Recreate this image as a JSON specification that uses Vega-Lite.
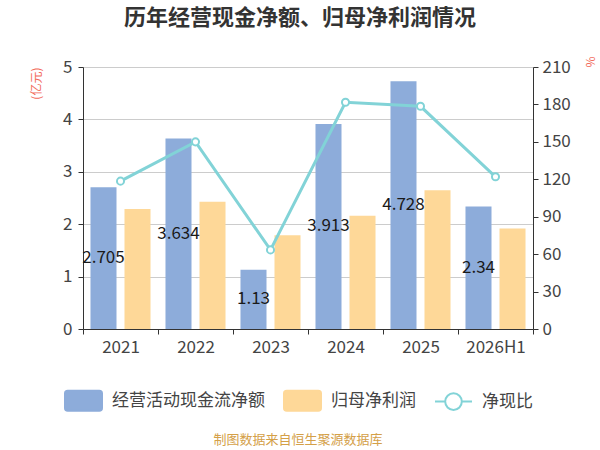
{
  "$schema": "https://vega.github.io/schema/vega-lite/v6.json",
  "width": 450,
  "height": 262,
  "autosize": {"type": "pad"},
  "padding": {"left": 30, "top": 6, "right": 5, "bottom": 0},
  "background": "white",
  "title": {
    "text": "历年经营现金净额、归母净利润情况",
    "fontSize": 22,
    "fontWeight": "bold",
    "color": "#333333",
    "anchor": "middle",
    "frame": "group",
    "dx": -8,
    "offset": 26
  },
  "config": {
    "font": "Noto Sans CJK SC",
    "view": {"stroke": null},
    "axis": {
      "labelFontSize": 17,
      "labelColor": "#444444",
      "domainColor": "#333333",
      "tickColor": "#333333",
      "tickSize": 5,
      "titleFontWeight": "normal",
      "titleFontSize": 12,
      "titleColor": "#f26b5b",
      "gridColor": "#cccccc"
    }
  },
  "datasets": {
    "bars": [
      {"year": "2021", "series": "经营活动现金流净额", "v": 2.705, "mid": 1.3525},
      {"year": "2022", "series": "经营活动现金流净额", "v": 3.634, "mid": 1.817},
      {"year": "2023", "series": "经营活动现金流净额", "v": 1.13, "mid": 0.565},
      {"year": "2024", "series": "经营活动现金流净额", "v": 3.913, "mid": 1.9565},
      {"year": "2025", "series": "经营活动现金流净额", "v": 4.728, "mid": 2.364},
      {"year": "2026H1", "series": "经营活动现金流净额", "v": 2.34, "mid": 1.17},
      {"year": "2021", "series": "归母净利润", "v": 2.29},
      {"year": "2022", "series": "归母净利润", "v": 2.43},
      {"year": "2023", "series": "归母净利润", "v": 1.79},
      {"year": "2024", "series": "归母净利润", "v": 2.16},
      {"year": "2025", "series": "归母净利润", "v": 2.65},
      {"year": "2026H1", "series": "归母净利润", "v": 1.92}
    ],
    "ratio": [
      {"year": "2021", "ratio": 118.5},
      {"year": "2022", "ratio": 150.0},
      {"year": "2023", "ratio": 63.4},
      {"year": "2024", "ratio": 181.7},
      {"year": "2025", "ratio": 178.5},
      {"year": "2026H1", "ratio": 122.0}
    ]
  },
  "encoding": {
    "x": {
      "field": "year",
      "type": "nominal",
      "sort": null,
      "scale": {"paddingInner": 0, "paddingOuter": 0},
      "axis": {"title": null, "labelAngle": 0, "tickBand": "extent", "labelPadding": 5, "grid": false}
    }
  },
  "layer": [
    {
      "data": {"name": "bars"},
      "layer": [
        {
          "mark": {"type": "bar"},
          "encoding": {
            "y": {
              "field": "v",
              "type": "quantitative",
              "scale": {"domain": [0, 5]},
              "axis": {
                "values": [0, 1, 2, 3, 4, 5],
                "title": "(亿元)",
                "titleAnchor": "end",
                "titlePadding": 19,
                "labelPadding": 6,
                "grid": true
              }
            },
            "xOffset": {
              "field": "series",
              "type": "nominal",
              "sort": ["经营活动现金流净额", "归母净利润"],
              "scale": {"paddingInner": 0.235, "paddingOuter": 0.22}
            },
            "color": {
              "field": "series",
              "type": "nominal",
              "scale": {
                "domain": ["经营活动现金流净额", "归母净利润", "净现比"],
                "range": ["#8dacda", "#fed898", "#82d3d7"]
              },
              "legend": {
                "orient": "none",
                "legendX": -19,
                "legendY": 314,
                "direction": "horizontal",
                "title": "制图数据来自恒生聚源数据库",
                "titleOrient": "bottom",
                "titleAnchor": "middle",
                "titleColor": "#d4a048",
                "titleFontSize": 13,
                "titleFontWeight": "normal",
                "titlePadding": 19,
                "labelFontSize": 17,
                "labelColor": "#444444",
                "labelOffset": 9,
                "columnPadding": 15,
                "symbolSize": 1369,
                "symbolStrokeWidth": 2,
                "encode": {
                  "symbols": {
                    "update": {
                      "shape": {"signal": "datum.value === '净现比' ? 'M-1,0H-0.45M0.45,0H1M0.45,0A0.45,0.45 0 1 1 -0.45,0A0.45,0.45 0 1 1 0.45,0ZM0.45,0A0.45,0.45 0 1 0 -0.45,0A0.45,0.45 0 1 0 0.45,0Z' : 'M-0.85,-0.54H0.85Q1,-0.54 1,-0.39V0.39Q1,0.54 0.85,0.54H-0.85Q-1,0.54 -1,0.39V-0.39Q-1,-0.54 -0.85,-0.54Z'"},
                      "fill": {"signal": "datum.value === '净现比' ? '#ffffff' : (datum.value === '归母净利润' ? '#fed898' : '#8dacda')"},
                      "stroke": {"signal": "datum.value === '净现比' ? '#82d3d7' : 'transparent'"},
                      "strokeWidth": {"value": 2},
                      "opacity": {"value": 1}
                    }
                  }
                }
              }
            }
          }
        },
        {
          "transform": [{"filter": "datum.series === '经营活动现金流净额'"}],
          "mark": {"type": "text", "fontSize": 17, "color": "#1a1a1a", "baseline": "middle", "align": "center"},
          "encoding": {
            "y": {"field": "mid", "type": "quantitative"},
            "xOffset": {
              "field": "series",
              "type": "nominal",
              "sort": ["经营活动现金流净额", "归母净利润"]
            },
            "text": {"field": "v", "type": "quantitative"}
          }
        }
      ]
    },
    {
      "data": {"name": "ratio"},
      "encoding": {
        "y": {
          "field": "ratio",
          "type": "quantitative",
          "scale": {"domain": [0, 210]},
          "axis": {
            "orient": "right",
            "values": [0, 30, 60, 90, 120, 150, 180, 210],
            "title": "%",
            "titleAnchor": "end",
            "titlePadding": 12,
            "labelPadding": 4,
            "grid": false
          }
        },
        "color": {"datum": "净现比", "type": "nominal"}
      },
      "layer": [
        {"mark": {"type": "line", "strokeWidth": 3}},
        {"mark": {"type": "point", "filled": false, "fill": "#ffffff", "size": 50, "strokeWidth": 2, "opacity": 1}}
      ]
    }
  ],
  "resolve": {"scale": {"y": "independent"}}
}
